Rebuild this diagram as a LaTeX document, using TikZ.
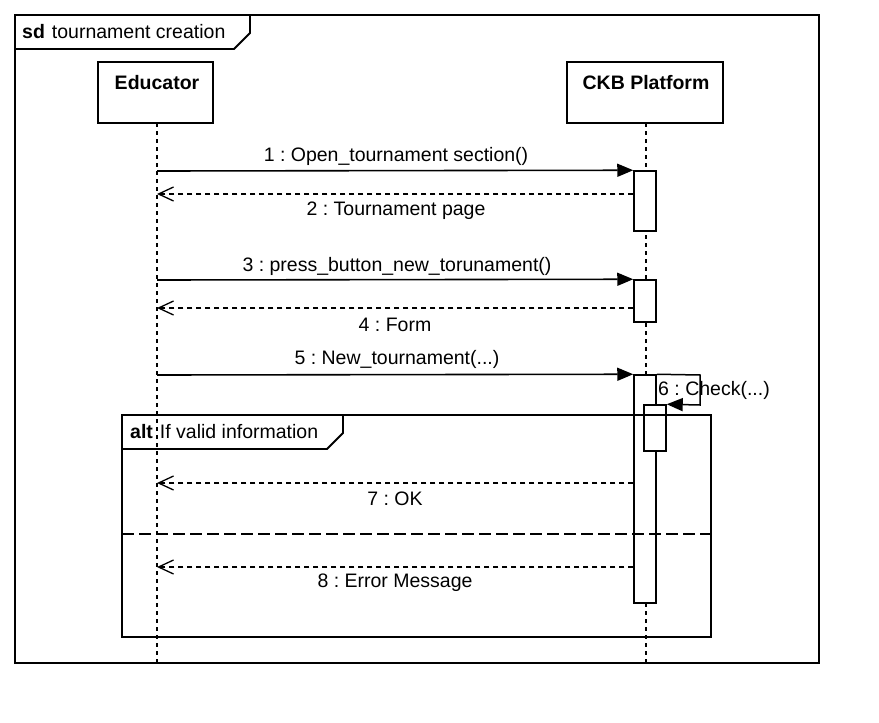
\documentclass[tikz,border=0pt]{standalone}
\usepackage{fontspec}
\setmainfont{Liberation Sans}
\usetikzlibrary{arrows.meta}
\frenchspacing
\begin{document}
\begin{tikzpicture}[x=1pt,y=-1pt,
  every node/.style={font=\fontsize{19.5}{23}\selectfont},
  actor/.style={draw,line width=1.8pt,fill=white,minimum width=115pt,minimum height=61pt,inner sep=0pt},
  actbar/.style={draw,line width=1.5pt,fill=white,minimum width=22pt,inner sep=0pt},
  lifeline/.style={line width=1.3pt,dash pattern=on 4pt off 4pt},
  frameline/.style={line width=1.8pt},
  msg/.style={line width=1.6pt,-{Triangle[length=16pt,width=13pt]}},
  ret/.style={line width=1.3pt,dash pattern=on 5pt off 4pt,-{Straight Barb[length=15pt,width=14pt,line width=1.3pt]}},
  lbl/.style={inner sep=0pt,anchor=center},
  altsep/.style={line width=1.8pt,dash pattern=on 12pt off 5pt}]
\useasboundingbox (0,0) rectangle (879,723);
% outer frame
\draw[frameline] (15,15) rectangle (819,663);
\draw[frameline] (15,49) -- (234,49) -- (250,33) -- (250,15);
\node[lbl,anchor=west] (sdlbl) at (22,32) {\textbf{sd}\hspace{7pt}tournament creation};
% actors
\node[actor] (edu) at (155.5,92.5) {};
\node[font=\fontsize{19.5}{23}\selectfont\bfseries,lbl] (edut) at (157,83) {Educator};
\node[actor,minimum width=156pt] (ckb) at (645,92.5) {};
\node[font=\fontsize{19.5}{23}\selectfont\bfseries,lbl] (ckbt) at (646,83) {CKB Platform};
% lifelines
\coordinate (eend) at (157,662);
\coordinate (cend) at (646,662);
\coordinate (etop) at (157,123);
\coordinate (ctop) at (646,123);
\draw[lifeline] (etop) -- (eend);
\draw[lifeline] (ctop) -- (cend);
% activations
\node[actbar,minimum height=60pt] (a1) at (645,201) {};
\node[actbar,minimum height=42pt] (a2) at (645,301) {};
\node[actbar,minimum height=228pt] (a3) at (645,489) {};
% messages on educator side
\coordinate (e1) at (157,171);
\coordinate (e2) at (157,194);
\coordinate (e3) at (157,280);
\coordinate (e4) at (157,308);
\coordinate (e5) at (157,375);
\coordinate (e7) at (157,483);
\coordinate (e8) at (157,567);
\draw[msg] (e1) -- (a1.north west);
\draw[ret] (a1.west |- e2) -- (e2);
\draw[msg] (e3) -- (a2.north west);
\draw[ret] (a2.west |- e4) -- (e4);
\draw[msg] (e5) -- (a3.north west);
\node[lbl] (l1) at (396,156.5) {1 : Open\_tournament section()};
\node[lbl] (l2) at (396,210.5) {2 : Tournament page};
\node[lbl] (l3) at (397,266.5) {3 : press\_button\_new\_torunament()};
\node[lbl] (l4) at (395,324.5) {4 : Form};
\node[lbl] (l5) at (397,359.5) {5 : New\_tournament(...)};
% self call
\node[actbar,minimum height=46pt] (a4) at (655,428) {};
\coordinate (s1) at (700,375);
\coordinate (s2) at (700,405);
\draw[msg,line width=1.5pt] (a3.north east) -- (s1) -- (s2) -- (a4.north east);
\node[lbl,anchor=west] (l6) at (658,390) {6 : Check(...)};
% alt frame
\draw[frameline] (122,415) rectangle (711,637);
\draw[frameline] (122,449) -- (327,449) -- (343,433) -- (343,415);
\node[lbl,anchor=west] (altlbl) at (130,432) {\textbf{alt}\hspace{7pt}If valid information};
\coordinate (sepl) at (122,534);
\coordinate (sepr) at (711,534);
\draw[altsep] (sepl) -- (sepr);
% returns in alt
\draw[ret] (a3.west |- e7) -- (e7);
\draw[ret] (a3.west |- e8) -- (e8);
\node[lbl] (l7) at (395,498.5) {7 : OK};
\node[lbl] (l8) at (395,582.5) {8 : Error Message};
\end{tikzpicture}
\end{document}
